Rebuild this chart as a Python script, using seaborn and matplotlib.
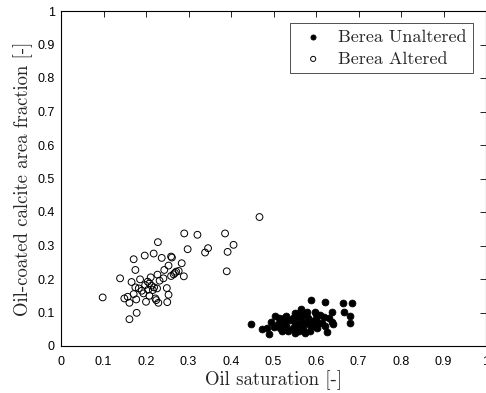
import numpy as np
import pandas as pd
import matplotlib
matplotlib.use("Agg")
import matplotlib.pyplot as plt
import seaborn as sns

altered_x = [0.098,0.139,0.161,0.178,0.149,0.157,0.161,0.171,0.177,0.166,0.175,0.186,0.183,0.194,0.200,0.208,0.198,0.204,0.211,0.208,0.216,0.219,0.226,0.224,0.229,0.227,0.249,0.253,0.250,0.241,0.253,0.243,0.259,0.265,0.271,0.277,0.284,0.289,0.259,0.237,0.218,0.197,0.171,0.175,0.228,0.290,0.321,0.298,0.339,0.346,0.386,0.406,0.392,0.390,0.467,0.261,0.222,0.190,0.213,0.268,0.232,0.205]
altered_y = [0.145,0.202,0.080,0.099,0.142,0.147,0.129,0.155,0.139,0.191,0.175,0.199,0.172,0.157,0.132,0.150,0.182,0.192,0.205,0.187,0.167,0.175,0.172,0.137,0.129,0.213,0.173,0.153,0.131,0.202,0.240,0.227,0.209,0.214,0.222,0.224,0.247,0.208,0.267,0.263,0.276,0.270,0.259,0.227,0.310,0.336,0.332,0.289,0.279,0.292,0.336,0.302,0.281,0.223,0.385,0.264,0.142,0.165,0.180,0.218,0.195,0.168]

unaltered_x = [0.448,0.473,0.490,0.484,0.495,0.504,0.502,0.512,0.516,0.524,0.539,0.551,0.559,0.588,0.622,0.663,0.684,0.665,0.679,0.680,0.637,0.626,0.610,0.598,0.579,0.619,0.637,0.602,0.586,0.614,
               0.520,0.530,0.535,0.545,0.550,0.555,0.560,0.565,0.570,0.575,0.580,0.585,0.590,0.595,0.600,0.605,0.560,0.545,0.530,0.570,0.510,0.525,0.550,0.575,0.620,0.630,0.640,0.565,0.550,0.600]
unaltered_y = [0.066,0.051,0.036,0.053,0.073,0.091,0.058,0.083,0.053,0.073,0.078,0.088,0.098,0.137,0.132,0.127,0.127,0.102,0.090,0.068,0.102,0.043,0.093,0.102,0.102,0.088,0.073,0.053,0.063,0.068,
               0.045,0.060,0.045,0.055,0.070,0.050,0.065,0.080,0.055,0.070,0.085,0.045,0.075,0.060,0.080,0.070,0.045,0.085,0.090,0.095,0.065,0.085,0.040,0.040,0.060,0.085,0.065,0.110,0.100,0.095]

ticks = [0, 0.1, 0.2, 0.3, 0.4, 0.5, 0.6, 0.7, 0.8, 0.9, 1]
tick_labels = ["0", "0.1", "0.2", "0.3", "0.4", "0.5", "0.6", "0.7", "0.8", "0.9", "1"]

sns.set_style("white")
plt.rcParams["font.family"] = ["Liberation Sans", "DejaVu Sans"]

fig = plt.figure(figsize=(4.86, 3.93), dpi=100)
ax = fig.add_axes([61/486, 1-346/393, 425/486, 335/393])

dfu = pd.DataFrame({"x": unaltered_x, "y": unaltered_y})
dfa = pd.DataFrame({"x": altered_x, "y": altered_y})
sns.scatterplot(data=dfu, x="x", y="y", ax=ax, color="black", edgecolor="black",
                s=24, linewidth=0.6, label="Berea Unaltered")
sns.scatterplot(data=dfa, x="x", y="y", ax=ax, facecolor="none", edgecolor="black",
                s=24, linewidth=0.7, label="Berea Altered")

ax.set_xlim(0, 1)
ax.set_ylim(0, 1)
ax.set_xticks(ticks)
ax.set_xticklabels(tick_labels)
ax.set_yticks(ticks)
ax.set_yticklabels(tick_labels)
ax.tick_params(direction="in", top=True, right=True, length=4, width=0.6,
               labelsize=9, colors="black")
ax.tick_params(axis="x", pad=7)
ax.tick_params(axis="y", pad=4.5)
for sp in ax.spines.values():
    sp.set_color("black")
    sp.set_linewidth(0.8)

serif = ["cmr10", "DejaVu Serif"]
ax.set_xlabel("Oil saturation [-]", fontsize=13.5, family=serif, labelpad=2)
ax.set_ylabel("Oil-coated calcite area fraction [-]", fontsize=13.5, family=serif, labelpad=3)

leg = ax.legend(loc="upper right", bbox_to_anchor=(0.970, 0.965), borderaxespad=0,
                frameon=True, fancybox=False, edgecolor="black",
                prop={"family": serif, "size": 13}, markerscale=0.75,
                handletextpad=0.45, borderpad=0.35, labelspacing=0.35, handlelength=1.9)
leg.get_frame().set_linewidth(0.6)

fig.savefig("out.png", dpi=100)
